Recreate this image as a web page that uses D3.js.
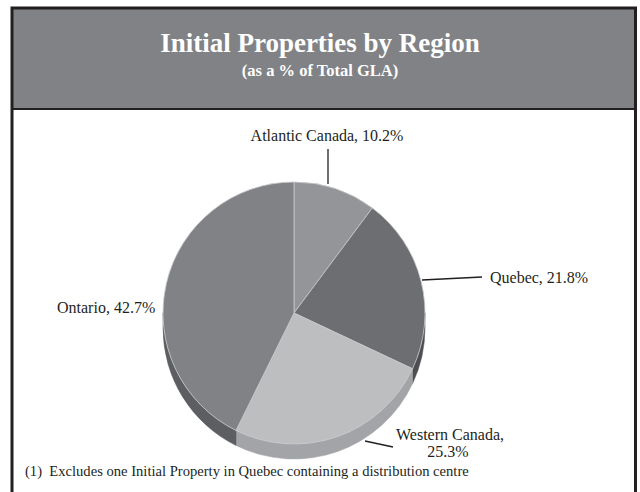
<!DOCTYPE html>
<html><head><meta charset="utf-8">
<script src="https://cdn.jsdelivr.net/npm/d3@7"></script>
<style>body{margin:0;background:#fff}svg{display:block}</style>
</head><body>
<svg id="c" width="640" height="492"></svg>
<script>
const categories = ["Atlantic Canada", "Quebec", "Western Canada", "Ontario"];
const values = [10.2, 21.8, 25.3, 42.7];
const labels = ["Atlantic Canada, 10.2%", "Quebec, 21.8%", "Western Canada,|25.3%", "Ontario, 42.7%"];
const topColors = ["#939598", "#6d6e71", "#bcbec0", "#808285"];
const sideColors = ["#77787b", "#4d4e51", "#a2a4a7", "#5d5e61"];
const title = "Initial Properties by Region";
const subtitle = "(as a % of Total GLA)";
const footnote = "(1)  Excludes one Initial Property in Quebec containing a distribution centre";

const svg = d3.select("#c");
const serif = "'Liberation Serif','Times New Roman',serif";

// frame and title box
svg.append("rect").attr("x", 12).attr("y", 8).attr("width", 624).attr("height", 101).attr("fill", "#808285");
svg.append("line").attr("x1", 12).attr("x2", 636).attr("y1", 109).attr("y2", 109).attr("stroke", "#231f20").attr("stroke-width", 2);
svg.append("path").attr("d", "M12,492V8H635.5V492").attr("fill", "none").attr("stroke", "#231f20").attr("stroke-width", 3);

svg.append("text").attr("x", 320).attr("y", 52).attr("text-anchor", "middle")
  .attr("font-family", serif).attr("font-weight", "bold").attr("font-size", 27).attr("fill", "#fff").text(title);
svg.append("text").attr("x", 320).attr("y", 76).attr("text-anchor", "middle")
  .attr("font-family", serif).attr("font-weight", "bold").attr("font-size", 16.5).attr("fill", "#fff").text(subtitle);

// pie
const cx = 294, cy = 313, r = 131, depth = 15;
const pie = d3.pie().sort(null).value(d => d)(values);
const g = svg.append("g").attr("transform", `translate(${cx},${cy})`);
const pt = (a, dy) => [r * Math.sin(a), -r * Math.cos(a) + dy];

pie.forEach((d, i) => {
  const a0 = Math.max(d.startAngle, Math.PI / 2), a1 = Math.min(d.endAngle, 3 * Math.PI / 2);
  if (a1 <= a0) return;
  const p = d3.path();
  const s0 = pt(a0, 0);
  p.moveTo(s0[0], s0[1]);
  p.arc(0, 0, r, a0 - Math.PI / 2, a1 - Math.PI / 2, false);
  const e1 = pt(a1, depth);
  p.lineTo(e1[0], e1[1]);
  p.arc(0, depth, r, a1 - Math.PI / 2, a0 - Math.PI / 2, true);
  p.closePath();
  g.append("path").attr("d", p.toString()).attr("fill", sideColors[i]).attr("stroke", sideColors[i]).attr("stroke-width", 0.5);
});

const arc = d3.arc().innerRadius(0).outerRadius(r);
g.selectAll("path.top").data(pie).join("path").attr("class", "top")
  .attr("d", arc).attr("fill", (d, i) => topColors[i])
  .attr("stroke", "#c8c9cb").attr("stroke-width", 0.8);

// leader lines
const lead = [
  [[328, 149], [328, 184]],
  [[422, 280], [482, 277]],
  [[365, 441], [393, 447]]
];
lead.forEach(l => svg.append("line").attr("x1", l[0][0]).attr("y1", l[0][1]).attr("x2", l[1][0]).attr("y2", l[1][1])
  .attr("stroke", "#231f20").attr("stroke-width", 1.3));

const lab = (x, y, t, anchor) => svg.append("text").attr("x", x).attr("y", y).attr("text-anchor", anchor || "start")
  .attr("font-family", serif).attr("font-size", 16).attr("fill", "#231f20").text(t);
lab(327, 141, labels[0], "middle");
lab(490, 283, labels[1]);
const wl = labels[2].split("|");
lab(450, 440, wl[0], "middle");
lab(448, 457, wl[1], "middle");
lab(57, 313, labels[3]);

svg.append("text").attr("x", 25).attr("y", 476).attr("font-family", serif).attr("font-size", 14.6)
  .attr("fill", "#231f20").attr("xml:space", "preserve").style("white-space", "pre").text(footnote);
</script>
</body></html>
